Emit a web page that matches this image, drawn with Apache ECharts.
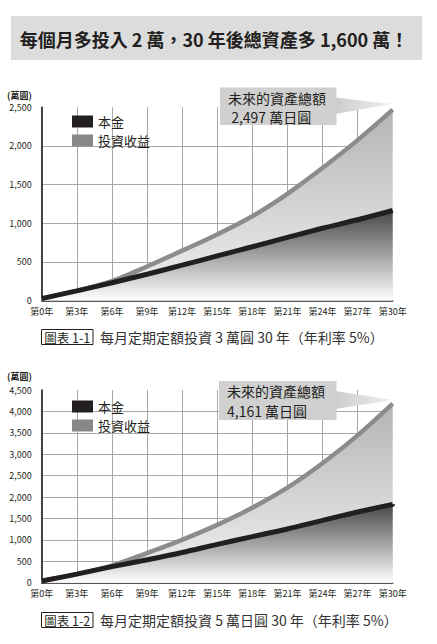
<!DOCTYPE html>
<html>
<head>
<meta charset="utf-8">
<script src="https://cdn.jsdelivr.net/npm/echarts@6/dist/echarts.min.js"></script>
<style>
html,body{margin:0;padding:0;background:#fff;}
#c{width:437px;height:644px;}
</style>
</head>
<body>
<div id="c"></div>
<script>
// ---- data ----
const xLabels = ['第0年','第3年','第6年','第9年','第12年','第15年','第18年','第21年','第24年','第27年','第30年'];
// Chart 1-1 : 3 萬圓 / month
const principal1 = [25, 125, 230, 340, 457, 577, 695, 816, 935, 1045, 1165];
const total1     = [25, 125, 250, 440, 645, 855, 1090, 1380, 1715, 2075, 2470];
// Chart 1-2 : 5 萬日圓 / month
const principal2 = [40, 200, 375, 535, 705, 895, 1075, 1255, 1455, 1650, 1830];
const total2     = [40, 200, 400, 690, 1000, 1350, 1750, 2220, 2790, 3440, 4180];
const yMax1 = 2500, yMax2 = 4500, yStep = 500;
const seriesNames = ['本金', '投資收益'];
const titleText = '每個月多投入 2 萬，30 年後總資產多 1,600 萬！';
const captions = [
  {tag: '圖表 1-1', text: '每月定期定額投資 3 萬圓 30 年（年利率 5%）'},
  {tag: '圖表 1-2', text: '每月定期定額投資 5 萬日圓 30 年（年利率 5%）'}
];
const callouts = [
  {line1: '未來的資產總額', line2: ' 2,497 萬日圓'},
  {line1: '未來的資產總額', line2: '4,161 萬日圓'}
];
const unitText = '(萬圓)';

// ---- styling ----
const FONT = "'Noto Sans CJK TC', 'Noto Sans', sans-serif";
const INK = '#231f20';
const GRID_C = '#a8a8a8';
const GRAY_LINE = '#8c8c8c';

const chart = echarts.init(document.getElementById('c'), null, {renderer: 'svg'});

function splitColors(max) {
  const n = max / yStep + 1;
  const arr = [];
  for (let i = 0; i < n; i++) arr.push(i === n - 1 ? 'transparent' : GRID_C);
  return arr;
}
function xColors() {
  return xLabels.map((_, i) => i === xLabels.length - 1 ? 'transparent' : GRID_C);
}

const grids = [
  {left: 41.7, top: 107.3, width: 351, height: 193.2},
  {left: 41.7, top: 390, width: 351, height: 192.7}
];

function makeX(gi) {
  return {
    type: 'category', gridIndex: gi, data: xLabels, boundaryGap: false,
    axisLine: {lineStyle: {color: INK, width: 1.6}},
    axisTick: {show: false},
    axisLabel: {interval: 0, margin: 6, fontSize: 9, color: INK, fontFamily: FONT},
    splitLine: {show: true, interval: 0, lineStyle: {color: xColors(), width: 1}}
  };
}
function makeY(gi, max) {
  return {
    type: 'value', gridIndex: gi, min: 0, max: max, interval: yStep,
    axisLine: {show: true, lineStyle: {color: INK, width: 1.6}},
    axisTick: {show: false},
    axisLabel: {margin: 10, fontSize: 9, color: INK, fontFamily: FONT,
      formatter: v => v.toLocaleString('en-US')},
    splitLine: {show: true, lineStyle: {color: splitColors(max), width: 1}}
  };
}

const darkArea = {type: 'linear', x: 0, y: 0, x2: 0, y2: 1,
  colorStops: [{offset: 0, color: '#484848'}, {offset: 1, color: '#ffffff'}]};
const lightArea = {type: 'linear', x: 0, y: 0, x2: 0, y2: 1,
  colorStops: [{offset: 0, color: '#b4b4b4'}, {offset: 1, color: '#f2f2f2'}]};

function makeSeries(gi, principal, total) {
  return [
    {name: seriesNames[1], type: 'line', xAxisIndex: gi, yAxisIndex: gi, data: total,
      smooth: 0.35, showSymbol: false, symbol: 'none', color: GRAY_LINE,
      lineStyle: {color: GRAY_LINE, width: 4.5}, areaStyle: {color: lightArea, opacity: 1},
      silent: true, z: 2},
    {name: seriesNames[0], type: 'line', xAxisIndex: gi, yAxisIndex: gi, data: principal,
      smooth: 0.35, showSymbol: false, symbol: 'none', color: INK,
      lineStyle: {color: INK, width: 5}, areaStyle: {color: darkArea, opacity: 1},
      silent: true, z: 3}
  ];
}

function makeLegend(top) {
  return {
    orient: 'vertical', left: 67, top: top, itemWidth: 21, itemHeight: 12, itemGap: 6,
    icon: 'rect', selectedMode: false,
    textStyle: {fontSize: 13, color: INK, fontFamily: FONT},
    data: [
      {name: seriesNames[0], itemStyle: {color: INK}},
      {name: seriesNames[1], itemStyle: {color: '#888888'}}
    ]
  };
}

function callout(c, box, tip) {
  // box: [x, y, w, h]; tip: [x, y]
  const [bx, by, bw, bh] = box;
  return [
    {type: 'polygon', z: 100,
      shape: {points: [[bx + bw - 1, by + 10], [tip[0], tip[1]], [bx + bw - 1, by + bh - 11]]},
      style: {fill: {type: 'linear', x: 0, y: 0, x2: 1, y2: 0,
        colorStops: [{offset: 0, color: '#cdcdcd'}, {offset: 1, color: '#f0f0f0'}]}}},
    {type: 'rect', z: 101, shape: {x: bx, y: by, width: bw, height: bh},
      style: {fill: '#d0d0d0'}},
    {type: 'text', z: 102, x: bx + 8, y: by + 10,
      style: {text: c.line1, font: '14px ' + FONT, fill: INK, verticalAlign: 'middle'}},
    {type: 'text', z: 102, x: bx + 8, y: by + 29.5,
      style: {text: c.line2, font: '14px ' + FONT, fill: INK, verticalAlign: 'middle'}}
  ];
}

function caption(c, y) {
  return [
    {type: 'rect', z: 100, shape: {x: 41.5, y: y - 7.5, width: 51.5, height: 15},
      style: {fill: '#fff', stroke: INK, lineWidth: 1}},
    {type: 'text', z: 101, x: 67.2, y: y,
      style: {text: c.tag, font: '12.5px ' + FONT, fill: INK, align: 'center', verticalAlign: 'middle'}},
    {type: 'text', z: 101, x: 100, y: y,
      style: {text: c.text, font: '14px ' + FONT, fill: '#333', verticalAlign: 'middle'}}
  ];
}

const graphics = [
  {type: 'rect', z: 100, shape: {x: 11, y: 16, width: 411, height: 44}, style: {fill: '#dcdcdc'}},
  {type: 'text', z: 101, x: 214, y: 38.5,
    style: {text: titleText, font: 'bold 18px ' + FONT, fill: INK, align: 'center', verticalAlign: 'middle'}},
  {type: 'text', z: 101, x: 7, y: 95,
    style: {text: unitText, font: 'bold 9px ' + FONT, fill: INK, verticalAlign: 'middle'}},
  {type: 'text', z: 101, x: 7, y: 376,
    style: {text: unitText, font: 'bold 9px ' + FONT, fill: INK, verticalAlign: 'middle'}},
  ...callout(callouts[0], [220, 87.5, 116.5, 37.5], [392, 104]),
  ...callout(callouts[1], [219, 381, 117.5, 39], [393, 400]),
  ...caption(captions[0], 337),
  ...caption(captions[1], 620)
];

chart.setOption({
  animation: false,
  backgroundColor: '#ffffff',
  textStyle: {fontFamily: FONT},
  grid: grids,
  xAxis: [makeX(0), makeX(1)],
  yAxis: [makeY(0, yMax1), makeY(1, yMax2)],
  legend: [makeLegend(110), makeLegend(395)],
  series: [...makeSeries(0, principal1, total1), ...makeSeries(1, principal2, total2)],
  graphic: graphics
});
</script>
</body>
</html>
